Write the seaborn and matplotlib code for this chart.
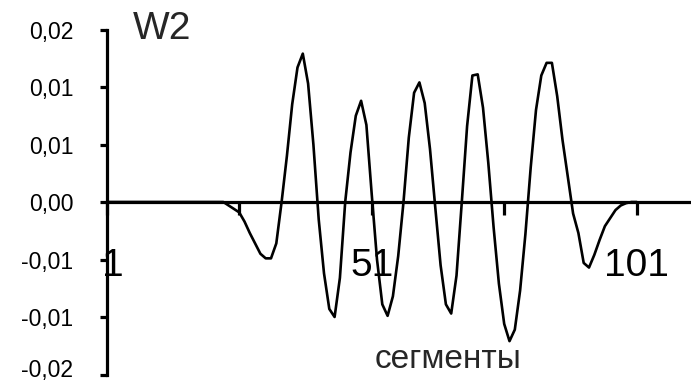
import numpy as np
import pandas as pd
import seaborn as sns
import matplotlib
matplotlib.use("Agg")
import matplotlib.pyplot as plt
import matplotlib.transforms as mtransforms

# Data (W2 wavelet over segments 1..101)

segments = list(range(1, 102))
w2 = [
    0.0, 0.0, 0.0, 0.0, 0.0, 0.0, 0.0, 0.0, 0.0, 0.0,
    0.0, 0.0, 0.0, 0.0, 0.0, 0.0, 0.0, 0.0, 0.0, 0.0,
    0.0, 0.0, 0.0, -0.0003, -0.0006, -0.0009, -0.0017, -0.0027, -0.0036, -0.0045,
    -0.0049, -0.0049, -0.0036, 0.0000, 0.0040, 0.0085, 0.0117, 0.0129, 0.0103, 0.0050,
    -0.0015, -0.0062, -0.0093, -0.0100, -0.0066, 0.0000, 0.0043, 0.0075, 0.0088, 0.0067,
    0.0007, -0.0050, -0.0089, -0.0099, -0.0082, -0.0047, 0.0000, 0.0056, 0.0095, 0.0104,
    0.0086, 0.0046, -0.0005, -0.0055, -0.0089, -0.0097, -0.0064, 0.0000, 0.0066, 0.0110,
    0.0111, 0.0082, 0.0034, -0.0022, -0.0071, -0.0106, -0.0121, -0.0111, -0.0077, -0.0028,
    0.0030, 0.0080, 0.0110, 0.0121, 0.0121, 0.0092, 0.0054, 0.0022, -0.0010, -0.0027,
    -0.0053, -0.0057, -0.0046, -0.0033, -0.0021, -0.0014, -0.0007, -0.0003, -0.0001, 0.0,
    0.0,
]

y_ticks = [-0.015, -0.01, -0.005, 0.0, 0.005, 0.01, 0.015]
y_labels = ["-0,02", "-0,01", "-0,01", "0,00", "0,01", "0,01", "0,02"]
x_ticks = [1, 26, 51, 76, 101]
x_labels = ["1", "", "51", "", "101"]

df = pd.DataFrame({"segment": segments, "W2": w2})

#---------------------------- PLOT ----------------------------

sns.set_theme(style="white")
plt.rcParams["font.family"] = ["Liberation Sans", "DejaVu Sans"]

fig = plt.figure(figsize=(6.91, 3.83), dpi=100)
ax = fig.add_axes([106.7 / 691, 8.5 / 383, 110 * 5.3 / 691, 345 / 383])

sns.lineplot(data=df, x="segment", y="W2", color="black", linewidth=1.9, ax=ax)

ax.set_xlim(1, 111)
ax.set_ylim(-0.015, 0.015)

# axes cross at zero, like the Excel original
ax.spines["bottom"].set_position(("data", 0))
ax.spines["top"].set_visible(False)
ax.spines["right"].set_visible(False)
for s in ["left", "bottom"]:
    ax.spines[s].set_linewidth(2.3)
    ax.spines[s].set_color("black")

ax.set_yticks(y_ticks)
ax.set_yticklabels(y_labels)
ax.set_xticks(x_ticks)
ax.set_xticklabels(x_labels)

ax.tick_params(axis="y", direction="out", length=5, width=2.3, pad=19,
               labelsize=16.5, colors="black", left=True)
ax.tick_params(axis="x", direction="out", length=9, width=2.3, pad=24,
               labelsize=28, colors="black", bottom=True)

# the "1" label sits just right of the y axis in the original
first = ax.get_xticklabels()[0]
first.set_transform(first.get_transform() +
                    mtransforms.ScaledTranslation(6 / 100, 0, fig.dpi_scale_trans))

# keep the lowest y label inside the picture
lowest = ax.get_yticklabels()[0]
lowest.set_transform(lowest.get_transform() +
                     mtransforms.ScaledTranslation(0, 6 / 100, fig.dpi_scale_trans))

ax.set_xlabel("")
ax.set_ylabel("")
ax.grid(False)

fig.text(162 / 691, 1 - 29 / 383, "W2", ha="center", va="center", fontsize=28)
fig.text(448 / 691, 1 - 360 / 383, "сегменты", ha="center", va="center", fontsize=24)

fig.savefig("out.png", dpi=100, facecolor="white")
